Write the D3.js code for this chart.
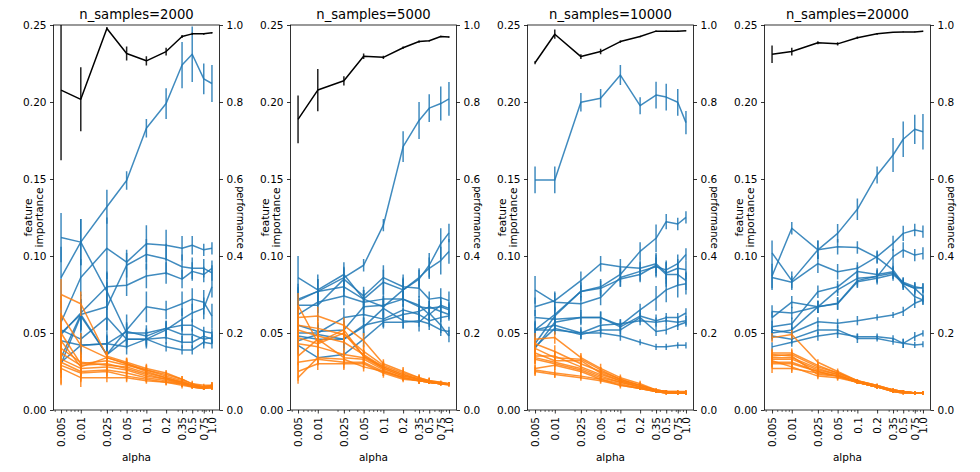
<!DOCTYPE html>
<html><head><meta charset="utf-8">
<script src="https://cdn.jsdelivr.net/npm/d3@7"></script>
<style>body{margin:0;background:#fff}svg{display:block;background:#fff}</style>
</head><body><svg id="chart" width="980" height="472"></svg>
<script>
// ---------------- data ----------------
const alphas = [0.005, 0.01, 0.025, 0.05, 0.1, 0.2, 0.35, 0.5, 0.75, 1.0];
const alphaLabels = ["0.005","0.01","0.025","0.05","0.1","0.2","0.35","0.5","0.75","1.0"];
const sampleSizes = [2000, 5000, 10000, 20000];
const leftTicks = [0, 0.05, 0.10, 0.15, 0.20, 0.25];
const rightTicks = [0, 0.2, 0.4, 0.6, 0.8, 1.0];

// performance (right axis)
const perf2000 = [0.831,0.807,0.991,0.926,0.907,0.931,0.970,0.977,0.977,0.980];
const perfErr2000 = [0.182,0.083,0.004,0.018,0.012,0.010,0.004,0.003,0.002,0.002];
const perf5000 = [0.755,0.831,0.855,0.919,0.916,0.941,0.957,0.959,0.970,0.969];
const perfErr5000 = [0.062,0.055,0.012,0.007,0.004,0.003,0.003,0.002,0.002,0.002];
const perf10000 = [0.902,0.976,0.918,0.931,0.957,0.970,0.984,0.984,0.984,0.985];
const perfErr10000 = [0.004,0.012,0.006,0.007,0.003,0.002,0.002,0.001,0.001,0.001];
const perf20000 = [0.924,0.931,0.954,0.951,0.967,0.977,0.981,0.982,0.982,0.984];
const perfErr20000 = [0.023,0.010,0.004,0.004,0.003,0.002,0.001,0.001,0.001,0.001];

// informative features (blue)
const blue2000 = [
 [0.086,0.109,0.132,0.149,0.183,0.199,0.224,0.231,0.215,0.212],
 [0.112,0.109,0.077,0.050,0.050,0.053,0.055,0.055,0.051,0.050],
 [0.057,0.086,0.105,0.096,0.108,0.107,0.105,0.107,0.104,0.105],
 [0.050,0.062,0.067,0.094,0.101,0.098,0.093,0.092,0.092,0.089],
 [0.049,0.063,0.080,0.081,0.087,0.089,0.085,0.090,0.088,0.092],
 [0.034,0.062,0.036,0.052,0.067,0.065,0.069,0.072,0.070,0.061],
 [0.052,0.046,0.060,0.046,0.046,0.052,0.059,0.063,0.066,0.080],
 [0.031,0.042,0.043,0.051,0.048,0.053,0.049,0.049,0.046,0.047],
 [0.030,0.061,0.036,0.046,0.046,0.047,0.044,0.044,0.048,0.046],
 [0.045,0.042,0.043,0.041,0.046,0.041,0.039,0.039,0.044,0.043]
];
const blueErr2000 = [
 [0.020,0.015,0.011,0.006,0.006,0.010,0.015,0.018,0.010,0.012],
 [0.016,0.015,0.012,0.006,0.005,0.004,0.004,0.004,0.003,0.003],
 [0.014,0.012,0.020,0.008,0.012,0.010,0.008,0.006,0.004,0.004],
 [0.010,0.010,0.016,0.008,0.010,0.010,0.008,0.007,0.006,0.005],
 [0.008,0.012,0.010,0.007,0.008,0.007,0.006,0.006,0.005,0.005],
 [0.010,0.010,0.012,0.010,0.010,0.006,0.008,0.007,0.008,0.008],
 [0.008,0.010,0.008,0.006,0.006,0.006,0.007,0.006,0.007,0.007],
 [0.006,0.008,0.008,0.006,0.005,0.005,0.005,0.004,0.004,0.004],
 [0.006,0.007,0.007,0.005,0.005,0.004,0.004,0.004,0.004,0.003],
 [0.006,0.006,0.006,0.005,0.004,0.003,0.003,0.003,0.004,0.003]
];
const blue5000 = [
 [0.071,0.077,0.086,0.094,0.120,0.171,0.188,0.196,0.199,0.202],
 [0.086,0.078,0.088,0.072,0.083,0.078,0.085,0.094,0.108,0.115],
 [0.072,0.077,0.080,0.072,0.067,0.078,0.086,0.092,0.097,0.103],
 [0.068,0.068,0.085,0.074,0.086,0.080,0.079,0.072,0.073,0.071],
 [0.062,0.070,0.074,0.070,0.072,0.072,0.067,0.066,0.067,0.065],
 [0.055,0.051,0.052,0.067,0.068,0.072,0.068,0.062,0.068,0.066],
 [0.048,0.046,0.046,0.054,0.066,0.058,0.057,0.063,0.055,0.048],
 [0.042,0.034,0.036,0.046,0.057,0.057,0.058,0.056,0.052,0.051],
 [0.050,0.050,0.060,0.062,0.059,0.065,0.062,0.058,0.060,0.061],
 [0.045,0.049,0.046,0.055,0.058,0.062,0.064,0.067,0.064,0.062]
];
const blueErr5000 = [
 [0.008,0.008,0.006,0.004,0.004,0.010,0.012,0.009,0.011,0.011],
 [0.014,0.010,0.008,0.006,0.008,0.007,0.006,0.008,0.010,0.006],
 [0.010,0.008,0.006,0.006,0.006,0.008,0.006,0.007,0.009,0.008],
 [0.012,0.010,0.008,0.006,0.008,0.008,0.006,0.005,0.006,0.006],
 [0.008,0.007,0.006,0.005,0.006,0.005,0.005,0.005,0.004,0.004],
 [0.008,0.006,0.006,0.006,0.006,0.005,0.006,0.005,0.005,0.004],
 [0.007,0.006,0.006,0.006,0.006,0.005,0.006,0.005,0.005,0.004],
 [0.006,0.005,0.005,0.005,0.004,0.004,0.004,0.004,0.004,0.003],
 [0.006,0.006,0.006,0.005,0.005,0.004,0.004,0.004,0.003,0.003],
 [0.006,0.006,0.005,0.005,0.004,0.004,0.004,0.004,0.004,0.003]
];
const blue10000 = [
 [0.1494,0.1494,0.1998,0.2024,0.2175,0.1976,0.2045,0.2032,0.1998,0.1866],
 [0.043,0.061,0.077,0.080,0.088,0.103,0.1115,0.1223,0.1208,0.1251],
 [0.067,0.071,0.084,0.095,0.093,0.092,0.095,0.089,0.092,0.091],
 [0.078,0.070,0.069,0.073,0.086,0.090,0.093,0.091,0.095,0.101],
 [0.052,0.062,0.077,0.079,0.085,0.088,0.094,0.088,0.088,0.084],
 [0.040,0.057,0.060,0.060,0.055,0.065,0.0725,0.078,0.081,0.082],
 [0.060,0.059,0.060,0.060,0.054,0.061,0.058,0.060,0.060,0.063],
 [0.052,0.055,0.050,0.055,0.056,0.058,0.057,0.058,0.057,0.058],
 [0.041,0.053,0.049,0.052,0.052,0.060,0.051,0.052,0.055,0.057],
 [0.052,0.052,0.050,0.050,0.048,0.044,0.041,0.041,0.042,0.042]
];
const blueErr10000 = [
 [0.0087,0.0087,0.006,0.006,0.0065,0.0055,0.0087,0.0087,0.0087,0.0076],
 [0.004,0.005,0.004,0.005,0.005,0.006,0.009,0.005,0.004,0.004],
 [0.006,0.006,0.006,0.005,0.005,0.005,0.006,0.007,0.006,0.006],
 [0.009,0.006,0.005,0.005,0.006,0.006,0.006,0.006,0.006,0.004],
 [0.006,0.005,0.006,0.005,0.005,0.005,0.008,0.008,0.007,0.006],
 [0.004,0.005,0.005,0.004,0.004,0.004,0.008,0.008,0.008,0.007],
 [0.005,0.004,0.004,0.004,0.003,0.004,0.004,0.003,0.003,0.003],
 [0.005,0.004,0.004,0.004,0.003,0.003,0.003,0.003,0.003,0.003],
 [0.004,0.004,0.003,0.003,0.003,0.003,0.003,0.003,0.003,0.003],
 [0.004,0.003,0.003,0.003,0.003,0.002,0.002,0.002,0.002,0.002]
];
const blue20000 = [
 [0.102,0.084,0.104,0.1147,0.1303,0.1526,0.1656,0.1758,0.1823,0.1807],
 [0.087,0.118,0.104,0.106,0.1055,0.099,0.091,0.082,0.079,0.074],
 [0.086,0.083,0.095,0.0898,0.092,0.0996,0.1082,0.1147,0.1169,0.1158],
 [0.064,0.063,0.067,0.078,0.0855,0.0866,0.0996,0.1039,0.1006,0.1017],
 [0.060,0.070,0.067,0.069,0.0833,0.0855,0.088,0.0823,0.079,0.0795],
 [0.054,0.056,0.0768,0.080,0.090,0.088,0.0898,0.0812,0.0736,0.0714],
 [0.050,0.052,0.067,0.0693,0.0840,0.0870,0.0890,0.0830,0.0800,0.0790],
 [0.052,0.050,0.0573,0.0563,0.058,0.0601,0.0617,0.064,0.0693,0.0714],
 [0.048,0.046,0.052,0.052,0.0465,0.0465,0.0444,0.0433,0.0476,0.0498],
 [0.041,0.044,0.048,0.0498,0.0476,0.0476,0.0465,0.0433,0.0422,0.0427]
];
const blueErr20000 = [
 [0.008,0.006,0.006,0.006,0.007,0.0055,0.011,0.0115,0.0095,0.0115],
 [0.008,0.004,0.006,0.005,0.004,0.004,0.004,0.004,0.004,0.004],
 [0.008,0.004,0.006,0.005,0.004,0.004,0.005,0.005,0.004,0.004],
 [0.004,0.004,0.004,0.004,0.004,0.004,0.005,0.005,0.004,0.004],
 [0.004,0.004,0.004,0.004,0.004,0.004,0.004,0.003,0.003,0.003],
 [0.004,0.004,0.004,0.004,0.004,0.004,0.004,0.003,0.004,0.003],
 [0.004,0.004,0.004,0.004,0.004,0.004,0.004,0.003,0.003,0.003],
 [0.004,0.004,0.003,0.003,0.003,0.002,0.002,0.003,0.003,0.003],
 [0.003,0.003,0.003,0.003,0.003,0.002,0.002,0.003,0.003,0.002],
 [0.003,0.003,0.003,0.003,0.002,0.002,0.002,0.003,0.002,0.002]
];

// noise features (orange)
const orange2000 = [
 [0.075,0.069,0.035,0.031,0.027,0.024,0.020,0.017,0.016,0.016],
 [0.062,0.042,0.034,0.030,0.026,0.023,0.020,0.017,0.015,0.016],
 [0.050,0.030,0.032,0.029,0.026,0.022,0.019,0.016,0.015,0.015],
 [0.045,0.028,0.034,0.030,0.025,0.021,0.018,0.016,0.015,0.016],
 [0.040,0.031,0.029,0.028,0.024,0.021,0.018,0.016,0.015,0.015],
 [0.037,0.029,0.030,0.027,0.023,0.020,0.018,0.016,0.015,0.014],
 [0.033,0.027,0.028,0.026,0.022,0.020,0.017,0.016,0.014,0.015],
 [0.031,0.025,0.026,0.024,0.021,0.019,0.017,0.015,0.014,0.015],
 [0.029,0.024,0.025,0.022,0.020,0.018,0.016,0.015,0.014,0.015],
 [0.027,0.021,0.021,0.021,0.019,0.018,0.017,0.015,0.014,0.015]
];
const orangeErr2000 = [
 [0.010,0.008,0.003,0.003,0.003,0.002,0.002,0.002,0.001,0.002],
 [0.012,0.008,0.004,0.003,0.003,0.002,0.002,0.001,0.001,0.002],
 [0.013,0.007,0.004,0.004,0.003,0.003,0.002,0.002,0.001,0.002],
 [0.012,0.006,0.004,0.004,0.003,0.002,0.002,0.001,0.001,0.002],
 [0.010,0.007,0.004,0.003,0.003,0.002,0.002,0.001,0.001,0.001],
 [0.010,0.006,0.004,0.003,0.003,0.002,0.002,0.001,0.001,0.001],
 [0.009,0.006,0.004,0.003,0.003,0.002,0.002,0.001,0.001,0.001],
 [0.010,0.006,0.004,0.003,0.003,0.002,0.002,0.001,0.001,0.001],
 [0.012,0.006,0.004,0.003,0.002,0.002,0.002,0.001,0.001,0.001],
 [0.011,0.006,0.003,0.003,0.002,0.002,0.002,0.001,0.001,0.001]
];
const orange5000 = [
 [0.068,0.044,0.052,0.035,0.028,0.023,0.020,0.019,0.018,0.017],
 [0.060,0.061,0.055,0.045,0.030,0.025,0.021,0.019,0.018,0.017],
 [0.055,0.053,0.049,0.038,0.029,0.024,0.021,0.019,0.017,0.017],
 [0.052,0.048,0.044,0.036,0.028,0.023,0.020,0.018,0.017,0.017],
 [0.047,0.043,0.050,0.035,0.027,0.022,0.020,0.018,0.017,0.016],
 [0.043,0.041,0.036,0.034,0.027,0.022,0.020,0.018,0.017,0.017],
 [0.035,0.046,0.034,0.033,0.026,0.021,0.019,0.018,0.017,0.017],
 [0.031,0.033,0.031,0.031,0.025,0.021,0.019,0.018,0.017,0.017],
 [0.025,0.030,0.030,0.030,0.024,0.020,0.019,0.018,0.017,0.017],
 [0.021,0.034,0.033,0.028,0.025,0.021,0.019,0.018,0.017,0.017]
];
const orangeErr5000 = [
 [0.008,0.006,0.005,0.004,0.003,0.003,0.002,0.002,0.001,0.001],
 [0.008,0.006,0.005,0.005,0.003,0.003,0.002,0.002,0.001,0.001],
 [0.007,0.006,0.005,0.004,0.003,0.003,0.002,0.002,0.001,0.001],
 [0.007,0.005,0.005,0.004,0.003,0.002,0.002,0.001,0.001,0.001],
 [0.007,0.005,0.005,0.004,0.003,0.002,0.002,0.001,0.001,0.001],
 [0.006,0.005,0.004,0.004,0.003,0.002,0.002,0.001,0.001,0.001],
 [0.006,0.005,0.004,0.004,0.003,0.002,0.002,0.001,0.001,0.001],
 [0.006,0.004,0.004,0.004,0.003,0.002,0.002,0.001,0.001,0.001],
 [0.006,0.004,0.004,0.003,0.003,0.002,0.002,0.001,0.001,0.001],
 [0.004,0.004,0.004,0.003,0.003,0.002,0.002,0.001,0.001,0.001]
];
const orange10000 = [
 [0.046,0.047,0.034,0.027,0.021,0.017,0.013,0.012,0.012,0.012],
 [0.043,0.038,0.030,0.025,0.020,0.016,0.013,0.012,0.011,0.012],
 [0.040,0.034,0.033,0.026,0.020,0.016,0.013,0.012,0.011,0.011],
 [0.037,0.032,0.032,0.024,0.019,0.016,0.013,0.012,0.012,0.011],
 [0.035,0.035,0.028,0.023,0.019,0.015,0.012,0.012,0.011,0.011],
 [0.034,0.031,0.027,0.022,0.018,0.015,0.012,0.012,0.011,0.011],
 [0.033,0.030,0.026,0.021,0.018,0.015,0.012,0.011,0.011,0.011],
 [0.027,0.029,0.025,0.020,0.017,0.014,0.012,0.011,0.011,0.011],
 [0.026,0.024,0.022,0.020,0.016,0.014,0.012,0.011,0.011,0.011],
 [0.025,0.023,0.021,0.019,0.016,0.014,0.012,0.011,0.011,0.011]
];
const orangeErr10000 = [
 [0.004,0.004,0.003,0.003,0.002,0.002,0.001,0.001,0.001,0.001],
 [0.004,0.004,0.003,0.003,0.002,0.002,0.001,0.001,0.001,0.001],
 [0.004,0.004,0.003,0.002,0.002,0.002,0.001,0.001,0.001,0.001],
 [0.004,0.003,0.003,0.002,0.002,0.001,0.001,0.001,0.001,0.001],
 [0.004,0.003,0.003,0.002,0.002,0.001,0.001,0.001,0.001,0.001],
 [0.004,0.003,0.003,0.002,0.002,0.001,0.001,0.001,0.001,0.001],
 [0.003,0.003,0.002,0.002,0.002,0.001,0.001,0.001,0.001,0.001],
 [0.004,0.003,0.002,0.002,0.002,0.001,0.001,0.001,0.001,0.001],
 [0.003,0.003,0.002,0.002,0.002,0.001,0.001,0.001,0.001,0.001],
 [0.003,0.002,0.002,0.002,0.001,0.001,0.001,0.001,0.001,0.001]
];
const orange20000 = [
 [0.047,0.049,0.031,0.025,0.019,0.016,0.013,0.012,0.011,0.011],
 [0.037,0.037,0.029,0.024,0.019,0.016,0.013,0.012,0.011,0.011],
 [0.035,0.036,0.028,0.024,0.019,0.016,0.013,0.012,0.011,0.011],
 [0.034,0.034,0.027,0.023,0.018,0.015,0.013,0.012,0.011,0.011],
 [0.033,0.033,0.026,0.023,0.018,0.015,0.013,0.012,0.011,0.011],
 [0.031,0.031,0.025,0.022,0.018,0.015,0.013,0.012,0.011,0.011],
 [0.030,0.030,0.025,0.022,0.018,0.015,0.012,0.012,0.011,0.011],
 [0.027,0.027,0.024,0.022,0.018,0.015,0.012,0.011,0.011,0.011],
 [0.036,0.035,0.023,0.022,0.018,0.015,0.012,0.011,0.011,0.011],
 [0.032,0.028,0.022,0.021,0.018,0.015,0.012,0.011,0.011,0.011]
];
const orangeErr20000 = [
 [0.003,0.003,0.002,0.002,0.001,0.001,0.001,0.001,0.001,0.001],
 [0.003,0.003,0.002,0.002,0.001,0.001,0.001,0.001,0.001,0.001],
 [0.003,0.003,0.002,0.002,0.001,0.001,0.001,0.001,0.001,0.001],
 [0.003,0.003,0.002,0.002,0.001,0.001,0.001,0.001,0.001,0.001],
 [0.003,0.003,0.002,0.002,0.001,0.001,0.001,0.001,0.001,0.001],
 [0.003,0.003,0.002,0.002,0.001,0.001,0.001,0.001,0.001,0.001],
 [0.003,0.003,0.002,0.002,0.001,0.001,0.001,0.001,0.001,0.001],
 [0.003,0.003,0.002,0.002,0.001,0.001,0.001,0.001,0.001,0.001],
 [0.003,0.003,0.002,0.002,0.001,0.001,0.001,0.001,0.001,0.001],
 [0.003,0.003,0.002,0.002,0.001,0.001,0.001,0.001,0.001,0.001]
];

// ---------------- drawing ----------------
const panels = [
  {n: sampleSizes[0], perf: perf2000, perfErr: perfErr2000, blue: blue2000, blueErr: blueErr2000, orange: orange2000, orangeErr: orangeErr2000},
  {n: sampleSizes[1], perf: perf5000, perfErr: perfErr5000, blue: blue5000, blueErr: blueErr5000, orange: orange5000, orangeErr: orangeErr5000},
  {n: sampleSizes[2], perf: perf10000, perfErr: perfErr10000, blue: blue10000, blueErr: blueErr10000, orange: orange10000, orangeErr: orangeErr10000},
  {n: sampleSizes[3], perf: perf20000, perfErr: perfErr20000, blue: blue20000, blueErr: blueErr20000, orange: orange20000, orangeErr: orangeErr20000}
];

const FONT = "DejaVu Sans, sans-serif";
const svg = d3.select("#chart");
svg.append("rect").attr("width", 980).attr("height", 472).attr("fill", "#fff");

const W = 166, TOP = 25, BOTTOM = 410;
const lefts = [53.5, 290.5, 527.5, 764.5];
const lo = Math.log10(alphas[0]), hi = Math.log10(alphas[alphas.length - 1]);
const pad = 0.05 * (hi - lo);
const xDomain = [Math.pow(10, lo - pad), Math.pow(10, hi + pad)];

// minor log ticks
const minorTicks = [];
for (let e = -3; e <= 0; e++) for (let m = 1; m <= 9; m++) {
  const v = +(m * Math.pow(10, e)).toPrecision(6);
  if (v >= xDomain[0] && v <= xDomain[1] && !alphas.some(a => Math.abs(a - v) < 1e-9)) minorTicks.push(v);
}

function styleAxis(g, fs) {
  g.attr("font-family", FONT).attr("font-size", fs);
  g.select(".domain").remove();
  g.selectAll(".tick line").attr("stroke", "#000").attr("stroke-width", 0.8);
  g.selectAll(".tick text").attr("fill", "#000");
}

panels.forEach((p, i) => {
  const L = lefts[i], R = L + W;
  const x = d3.scaleLog().domain(xDomain).range([L, R]);
  const y = d3.scaleLinear().domain([0, 0.25]).range([BOTTOM, TOP]);
  const y2 = d3.scaleLinear().domain([0, 1]).range([BOTTOM, TOP]);
  const g = svg.append("g");

  const clipId = "clip" + i;
  svg.append("clipPath").attr("id", clipId).append("rect")
    .attr("x", L).attr("y", TOP).attr("width", W).attr("height", BOTTOM - TOP);
  const plot = g.append("g").attr("clip-path", `url(#${clipId})`);

  function drawSeries(vals, errs, color, ys, lineOpacity, barColor) {
    const s = plot.append("g");
    s.selectAll("line").data(vals).join("line")
      .attr("x1", (d, j) => x(alphas[j])).attr("x2", (d, j) => x(alphas[j]))
      .attr("y1", (d, j) => ys(d - errs[j])).attr("y2", (d, j) => ys(d + errs[j]))
      .attr("stroke", barColor).attr("stroke-width", 1.5).attr("stroke-opacity", lineOpacity);
    s.append("path").datum(vals)
      .attr("d", d3.line().x((d, j) => x(alphas[j])).y(d => ys(d)))
      .attr("fill", "none").attr("stroke", color).attr("stroke-width", 1.5)
      .attr("stroke-opacity", lineOpacity).attr("stroke-linejoin", "round");
  }

  p.blue.forEach((vals, k) => drawSeries(vals, p.blueErr[k], "#1f77b4", y, 0.85, "#1f77b4"));
  p.orange.forEach((vals, k) => drawSeries(vals, p.orangeErr[k], "#ff7f0e", y, 0.85, "#ff7f0e"));
  drawSeries(p.perf, p.perfErr, "#000", y2, 1, "#222");

  // frame
  g.append("rect").attr("x", L).attr("y", TOP).attr("width", W).attr("height", BOTTOM - TOP)
    .attr("fill", "none").attr("stroke", "#000").attr("stroke-width", 0.8);

  // left axis
  const ga = g.append("g").attr("transform", `translate(${L},0)`)
    .call(d3.axisLeft(y).tickValues(leftTicks).tickFormat(d3.format(".2f")).tickSize(3.5).tickPadding(3.5));
  styleAxis(ga, 10.5);
  // right axis
  const gb = g.append("g").attr("transform", `translate(${R},0)`)
    .call(d3.axisRight(y2).tickValues(rightTicks).tickFormat(d3.format(".1f")).tickSize(3.5).tickPadding(3.5));
  styleAxis(gb, 10.5);
  // bottom axis
  const gx = g.append("g").attr("transform", `translate(0,${BOTTOM})`)
    .call(d3.axisBottom(x).tickValues(alphas).tickFormat((d, j) => alphaLabels[j]).tickSize(3.5));
  styleAxis(gx, 10.5);
  gx.selectAll(".tick text").attr("transform", "rotate(-90)").attr("text-anchor", "end")
    .attr("x", -7).attr("y", 0).attr("dy", "0.35em");
  const gm = g.append("g").attr("transform", `translate(0,${BOTTOM})`)
    .call(d3.axisBottom(x).tickValues(minorTicks).tickFormat("").tickSize(2));
  styleAxis(gm, 10.5);
  gm.selectAll(".tick line").attr("stroke-width", 0.6);

  // title
  g.append("text").attr("x", L + W / 2).attr("y", 18.5).attr("text-anchor", "middle")
    .attr("font-family", FONT).attr("font-size", 13.2).attr("fill", "#000")
    .text("n_samples=" + p.n);
  // x label
  g.append("text").attr("x", L + W / 2).attr("y", 461).attr("text-anchor", "middle")
    .attr("font-family", FONT).attr("font-size", 10.5).attr("fill", "#000").text("alpha");
  // left label, two lines
  const cy = (TOP + BOTTOM) / 2;
  g.append("text").attr("transform", `translate(${L - 21.5},${cy}) rotate(-90)`)
    .attr("text-anchor", "middle").attr("font-family", FONT).attr("font-size", 10.5)
    .attr("fill", "#000").text("feature");
  g.append("text").attr("transform", `translate(${L - 11},${cy}) rotate(-90)`)
    .attr("text-anchor", "middle").attr("font-family", FONT).attr("font-size", 10.5)
    .attr("fill", "#000").text("importance");
  // right label
  g.append("text").attr("transform", `translate(${R + 17},${cy}) rotate(90)`)
    .attr("text-anchor", "middle").attr("font-family", FONT).attr("font-size", 9.8)
    .attr("fill", "#000").text("performance");
});
</script>
</body></html>
